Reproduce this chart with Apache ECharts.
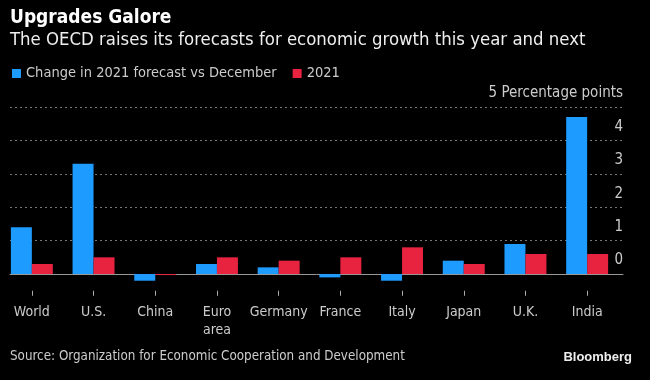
<!DOCTYPE html>
<html>
<head>
<meta charset="utf-8">
<script src="https://cdn.jsdelivr.net/npm/echarts@6/dist/echarts.min.js"></script>
<style>
html,body{margin:0;padding:0;background:#000;}
#c{width:650px;height:380px;}
</style>
</head>
<body>
<div id="c"></div>
<script>
const categories = ['World', 'U.S.', 'China', 'Euro\narea', 'Germany', 'France', 'Italy', 'Japan', 'U.K.', 'India'];
const changeVsDecember = [1.4, 3.3, -0.2, 0.3, 0.2, -0.1, -0.2, 0.4, 0.9, 4.7];
const forecast2021 = [0.3, 0.5, -0.03, 0.5, 0.4, 0.5, 0.8, 0.3, 0.6, 0.6];
const yTicks = [0, 1, 2, 3, 4, 5];
const seriesNames = ['Change in 2021 forecast vs December', '2021'];

const FONT = "'DejaVu Sans Condensed', 'Liberation Sans Narrow', 'DejaVu Sans', sans-serif";
const BLUE = '#1e9bff';
const RED = '#e8233f';

const chart = echarts.init(document.getElementById('c'), null, {renderer: 'canvas'});
chart.setOption({
  backgroundColor: '#000',
  animation: false,
  textStyle: {fontFamily: FONT},
  title: [
    {text: 'Upgrades Galore', left: 10, top: 9, padding: 0,
     textStyle: {color: '#fff', fontSize: 19, fontWeight: 'bold', fontFamily: FONT}},
    {text: 'The OECD raises its forecasts for economic growth this year and next', left: 10, top: 31, padding: 0,
     textStyle: {color: '#eee', fontSize: 18.4, fontWeight: 'normal', fontFamily: FONT}},
    {text: 'Source: Organization for Economic Cooperation and Development', left: 10, top: 350, padding: 0,
     textStyle: {color: '#ccc', fontSize: 13.3, fontWeight: 'normal', fontFamily: FONT}},
    {text: 'Bloomberg', right: 18, top: 351, padding: 0,
     textStyle: {color: '#eee', fontSize: 13, fontWeight: 'bold', fontFamily: "'Liberation Sans', Arial, sans-serif"}}
  ],
  legend: {
    left: 12, top: 66, padding: 0, itemWidth: 9, itemHeight: 9, itemGap: 16, icon: 'rect',
    data: seriesNames,
    textStyle: {color: '#ccc', fontSize: 14.5, fontFamily: FONT, padding: [0, 0, 0, 0]}
  },
  grid: [
    {left: 1, right: 32, top: 107, bottom: 89.25},
    {left: 10, right: 27, top: 107, bottom: 106}
  ],
  xAxis: [
    {type: 'category', gridIndex: 0, data: categories,
     axisLine: {show: false, onZero: false},
     axisTick: {show: true, alignWithLabel: true, length: 5, lineStyle: {color: '#aaa'}},
     axisLabel: {interval: 0, color: '#ccc', fontSize: 14, margin: 13, lineHeight: 18, fontFamily: FONT}},
    {type: 'value', gridIndex: 1, min: 0, max: 1, show: true,
     axisLine: {show: true, onZero: false, lineStyle: {color: '#999', width: 1}},
     axisTick: {show: false}, axisLabel: {show: false}, splitLine: {show: false}}
  ],
  yAxis: [
    {type: 'value', gridIndex: 0, min: -0.5, max: 5, show: false, splitLine: {show: false}},
    {type: 'value', gridIndex: 1, min: 0, max: 5, interval: 1, position: 'right',
     axisLine: {show: false},
     axisTick: {show: false},
     splitLine: {show: true, showMinLine: false, lineStyle: {color: '#777', type: [2, 3], width: 1}},
     axisLabel: {inside: true, margin: 0, color: '#ccc', fontSize: 15, fontFamily: FONT,
       verticalAlign: 'bottom', padding: [0, 0, 6, 0],
       formatter: v => (v === yTicks[yTicks.length - 1] ? v + ' Percentage points' : String(v))}}
  ],
  series: [
    {name: seriesNames[0], type: 'bar', xAxisIndex: 0, yAxisIndex: 0, data: changeVsDecember,
     itemStyle: {color: BLUE}, barGap: '0%', barCategoryGap: '32%'},
    {name: seriesNames[1], type: 'bar', xAxisIndex: 0, yAxisIndex: 0, data: forecast2021,
     itemStyle: {color: RED}, barGap: '0%', barCategoryGap: '32%'}
  ]
});
</script>
</body>
</html>
